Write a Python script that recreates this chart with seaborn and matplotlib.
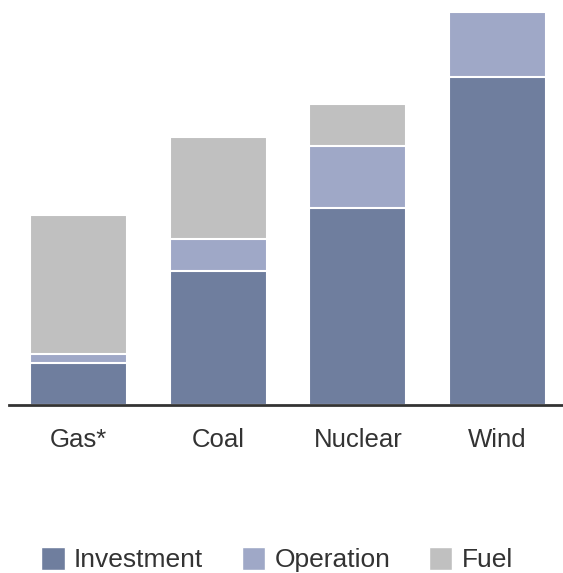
import numpy as np
import pandas as pd
import matplotlib
matplotlib.use("Agg")
import matplotlib.pyplot as plt
from matplotlib.patches import Patch
import seaborn as sns

# values (arbitrary units)
categories = ["Gas*", "Coal", "Nuclear", "Wind"]
investment = [42, 134, 197, 328]
operation = [9, 32, 62, 65]
fuel = [139, 102, 42, 0]

col_inv = "#6f7e9e"
col_op = "#9fa8c7"
col_fuel = "#c0c0c0"

sns.set_style("white")
plt.rcParams["font.family"] = ["Liberation Sans", "DejaVu Sans"]

df = pd.DataFrame({"cat": categories, "inv": investment, "op": operation, "fuel": fuel})
df["lvl1"] = df["inv"]
df["lvl2"] = df["inv"] + df["op"]
df["lvl3"] = df["inv"] + df["op"] + df["fuel"]

fig = plt.figure(figsize=(5.63, 5.73), dpi=100)
ax = fig.add_axes([9 / 563, 168.5 / 573, 554 / 563, 394 / 573])

# stacked bars drawn as overlapping cumulative layers
for col, colour in [("lvl3", col_fuel), ("lvl2", col_op), ("lvl1", col_inv)]:
    sns.barplot(data=df, x="cat", y=col, color=colour, width=0.695,
                edgecolor="white", linewidth=1.5, saturation=1, ax=ax)

ax.set_ylim(0, 394)
ax.set_xlim(-0.5, 3.471)
ax.set_xlabel("")
ax.set_ylabel("")
ax.set_yticks([])
sns.despine(ax=ax, left=True, top=True, right=True)
ax.spines["bottom"].set_color("#333333")
ax.spines["bottom"].set_linewidth(2)
ax.tick_params(axis="x", length=0, pad=17, labelsize=18.5, colors="#333333")

handles = [Patch(facecolor=col_inv, label="Investment"),
           Patch(facecolor=col_op, label="Operation"),
           Patch(facecolor=col_fuel, label="Fuel")]
leg = fig.legend(handles=handles, loc="center", bbox_to_anchor=(0.492, 13.5 / 573),
                 ncol=3, frameon=False, fontsize=19, handlelength=0.9,
                 handleheight=0.95, handletextpad=0.35, columnspacing=1.45)
for t in leg.get_texts():
    t.set_color("#333333")

fig.savefig("out.png", dpi=100)
